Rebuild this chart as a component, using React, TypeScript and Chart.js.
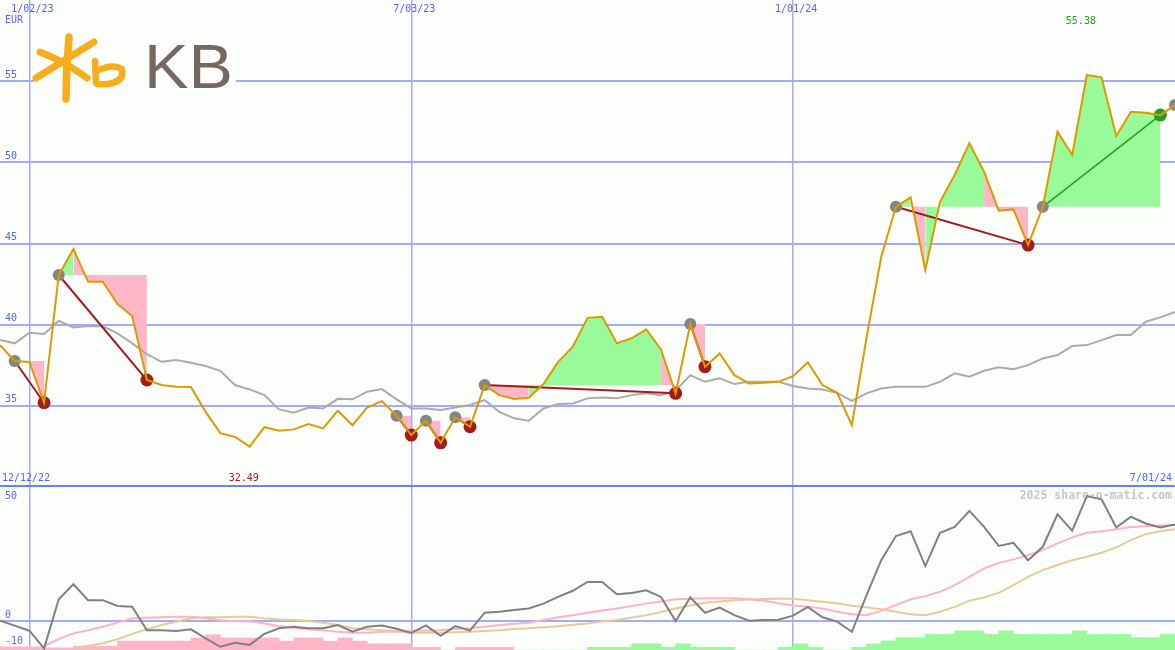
import React, { useEffect, useRef } from 'react';
import { Chart, registerables } from 'chart.js';

Chart.register(...registerables);

// ---------- data ----------
const currency = 'EUR';
const rangeStartLabel = '12/12/22';
const rangeEndLabel = '7/01/24';
const dateTickIdx = [2, 28, 54];
const dateTickLabels = ['1/02/23', '7/03/23', '1/01/24'];
const priceTicks = [35, 40, 45, 50, 55];
const oscTicks = [50, 0, -10];
const oscGridTicks = [0];

// weekly closing prices (index 0 = week of 12/19/22)
const price = [
  38.74, 37.76, 37.70, 35.19, 43.06, 44.66, 42.64, 42.64, 41.27, 40.53,
  36.59, 36.28, 36.17, 36.16, 34.63, 33.32, 33.09, 32.49, 33.69, 33.46,
  33.55, 33.88, 33.61, 34.70, 33.81, 34.90, 35.29, 34.39, 33.20, 34.08,
  32.72, 34.29, 33.71, 36.28, 35.66, 35.42, 35.50, 36.34, 37.71, 38.64,
  40.42, 40.49, 38.85, 39.16, 39.71, 38.48, 35.77, 40.04, 37.41, 38.23,
  36.89, 36.38, 36.42, 36.48, 36.83, 37.68, 36.28, 35.80, 33.81, 39.20,
  44.18, 47.26, 47.84, 43.36, 47.57, 49.22, 51.17, 49.42, 47.02, 47.10,
  44.90, 47.26, 51.89, 50.45, 55.38, 55.24, 51.62, 53.12, 53.06, 52.91,
  53.53,
];

// moving average of price
const priceMA = [
  39.05, 38.85, 39.50, 39.42, 40.24, 39.83, 39.91, 39.91, 39.46, 38.85,
  38.19, 37.71, 37.82, 37.65, 37.45, 37.16, 36.28, 36.01, 35.66, 34.78,
  34.57, 34.90, 34.84, 35.43, 35.40, 35.87, 36.03, 35.40, 34.84, 34.84,
  34.74, 34.90, 35.05, 35.35, 34.63, 34.23, 34.08, 34.84, 35.11, 35.15,
  35.46, 35.52, 35.46, 35.66, 35.77, 35.66, 35.93, 36.89, 36.48, 36.69,
  36.34, 36.48, 36.48, 36.48, 36.22, 36.07, 36.01, 35.80, 35.31, 35.77,
  36.07, 36.17, 36.17, 36.17, 36.48, 37.00, 36.79, 37.16, 37.37, 37.25,
  37.51, 37.92, 38.13, 38.68, 38.74, 39.05, 39.36, 39.36, 40.18, 40.45,
  40.79,
];

// trade signals: start week index and end week index (null = open)
const signalStart = [1, 4, 27, 29, 31, 33, 47, 61, 71, 80];
const signalEnd: (number | null)[] = [3, 10, 28, 30, 32, 46, 48, 70, 79, null];

// lower panel oscillator
const osc = [
  0.1, -1.7, -3.6, -10.2, 8.1, 13.7, 7.8, 7.8, 5.6, 5.3,
  -3.4, -3.4, -3.7, -3.1, -6.5, -9.6, -8.1, -8.9, -4.8, -2.7,
  -2.1, -2.7, -2.7, -1.5, -4.0, -2.1, -1.7, -2.9, -4.4, -1.6,
  -5.5, -1.9, -3.6, 3.1, 3.5, 4.1, 4.7, 6.5, 9.0, 11.3,
  14.6, 14.6, 10.0, 10.5, 11.5, 9.0, 0.0, 8.8, 3.1, 5.0,
  2.2, 0.1, 0.4, 0.5, 2.0, 5.3, 1.4, -0.2, -4.0, 9.7,
  22.7, 31.7, 33.5, 20.5, 32.9, 35.1, 41.1, 35.1, 28.0, 29.2,
  22.7, 27.7, 39.8, 33.7, 46.6, 45.4, 34.9, 38.9, 36.4, 34.9,
  36.0,
];

const oscAvgFast: (number | null)[] = [
  null, null, null, -9.3, -6.7, -4.6, -3.4, -2.1, -0.6, 1.0,
  1.2, 1.4, 1.6, 1.6, 1.0, 0.3, -0.1, -0.1, -0.9, -1.9,
  -2.5, -3.1, -3.4, -4.0, -4.4, -4.4, -4.0, -4.0, -3.6, -3.5,
  -3.4, -3.0, -2.7, -2.1, -1.5, -1.0, -0.6, 0.4, 1.4, 2.2,
  3.1, 3.9, 4.7, 5.6, 6.5, 7.3, 8.1, 8.3, 8.5, 8.5,
  8.5, 8.1, 7.6, 6.6, 5.8, 5.3, 4.7, 3.5, 2.5, 2.2,
  3.8, 6.0, 8.1, 9.3, 10.9, 13.4, 16.5, 19.6, 21.7, 23.0,
  24.6, 26.5, 29.0, 31.2, 32.9, 33.5, 34.2, 35.1, 35.4, 35.6,
  35.8,
];

const oscAvgSlow: (number | null)[] = [
  null, null, null, null, null, -10.0, -9.3, -8.3, -6.8, -4.8,
  -3.1, -1.5, -0.3, 1.0, 1.4, 1.4, 1.6, 1.6, 1.0, 0.6,
  0.4, 0.0, -0.6, -1.5, -2.7, -3.1, -3.4, -3.7, -4.4, -4.4,
  -4.4, -4.2, -4.0, -3.7, -3.4, -3.0, -2.7, -2.3, -1.9, -1.4,
  -0.9, -0.2, 0.4, 1.3, 2.2, 3.4, 4.7, 5.8, 6.8, 7.3,
  7.8, 8.0, 8.2, 8.4, 8.3, 7.8, 7.2, 6.6, 5.7, 5.1,
  4.4, 3.5, 2.5, 2.2, 3.5, 5.3, 7.6, 8.8, 10.5, 13.4,
  16.5, 19.0, 20.9, 22.7, 24.0, 25.5, 27.5, 30.2, 32.4, 33.5,
  34.2,
];

// histogram (one bar per week, drawn up from the panel floor; sign = colour)
const hist = [
  -1.2, -1.2, -1.2, -0.8, -0.8, -1.4, -1.4, -1.4, -3.3, -3.3,
  -3.3, -3.3, -3.3, -4.5, -5.7, -4.5, -4.5, -4.5, -4.5, -3.3,
  -4.5, -4.5, -3.3, -4.5, -3.3, -2.3, -2.3, -2.3, -1.0, -1.0,
  0, -1.0, -1.0, -1.0, -1.0, 0, 0, 0, 0, 0,
  1.0, 1.0, 1.0, 2.3, 2.3, 1.0, 2.3, 1.0, 1.0, 1.0,
  0, 0, 0, 1.0, 2.3, 1.0, 0, 0, 1.0, 2.3,
  3.4, 4.6, 4.6, 5.8, 5.8, 7.1, 7.1, 5.8, 7.1, 5.8,
  5.8, 5.8, 5.8, 7.1, 5.8, 5.8, 5.8, 4.6, 4.6, 5.8,
];

const watermark = '2025 share-o-matic.com';

// ---------- styles ----------
const W = 1175;
const TOP_H = 487;
const BOT_H = 163;
const BG = '#fcfefc';
const GRID = '#a4acf4';
const SEP = '#6f7ff0';
const TEXT_BLUE = '#5566ee';
const MONO = "'DejaVu Sans Mono', monospace";
const ORANGE = '#dc9a00';
const MA_GRAY = '#ababab';
const DOT_GRAY = '#858585';
const RED = '#a31c1c';
const GREEN = '#22a022';
const FILL_GREEN = '#98fa98';
const FILL_PINK = '#ffb6c6';
const PRICE_MIN = 30;
const PRICE_MAX = 60;
const OSC_MIN = -10.8;
const OSC_MAX = 50;
const LAST = price.length - 1;

const pts = (arr: (number | null)[]) => arr.map((v, i) => ({ x: i, y: v }));

function xScale(withTicks: number[]) {
  return {
    type: 'linear' as const,
    min: 0,
    max: LAST,
    offset: false,
    ticks: { display: false },
    border: { display: false },
    grid: { color: GRID, lineWidth: 1.5, drawTicks: false, offset: false },
    afterBuildTicks: (axis: any) => {
      axis.ticks = withTicks.map((v) => ({ value: v }));
    },
  };
}

const topTextPlugin = {
  id: 'topText',
  beforeDatasetsDraw(chart: any) {
    const { ctx, scales } = chart;
    const x = scales.x;
    const y = scales.y;
    ctx.save();
    ctx.font = `10px ${MONO}`;
    ctx.fillStyle = TEXT_BLUE;
    ctx.textBaseline = 'middle';
    ctx.textAlign = 'left';
    priceTicks.forEach((v) => ctx.fillText(String(v), 5, y.getPixelForValue(v) - 6));
    ctx.fillText(currency, 5, 20);
    ctx.fillText(rangeStartLabel, 2, chart.height - 9);
    ctx.textAlign = 'right';
    ctx.fillText(rangeEndLabel, chart.width - 3, chart.height - 9);
    ctx.textAlign = 'center';
    dateTickIdx.forEach((d, k) => ctx.fillText(dateTickLabels[k], x.getPixelForValue(d) + 3, 9));
    const minV = Math.min(...price);
    const maxV = Math.max(...price);
    ctx.fillStyle = RED;
    ctx.fillText(minV.toFixed(2), x.getPixelForValue(price.indexOf(minV)) - 6, chart.height - 9);
    ctx.fillStyle = GREEN;
    ctx.fillText(maxV.toFixed(2), x.getPixelForValue(price.indexOf(maxV)) - 6, 21);
    ctx.restore();
  },
  afterDraw(chart: any) {
    const { ctx } = chart;
    ctx.save();
    ctx.fillStyle = SEP;
    ctx.fillRect(0, chart.height - 2, chart.width, 2);
    ctx.restore();
  },
};

const botTextPlugin = {
  id: 'botText',
  beforeDatasetsDraw(chart: any) {
    const { ctx, scales } = chart;
    const y = scales.y;
    ctx.save();
    ctx.textBaseline = 'middle';
    ctx.font = `bold 11.5px ${MONO}`;
    ctx.fillStyle = '#c6c6c6';
    ctx.textAlign = 'right';
    ctx.fillText(watermark, chart.width - 3, 9);
    ctx.font = `10px ${MONO}`;
    ctx.fillStyle = TEXT_BLUE;
    ctx.textAlign = 'left';
    oscTicks.forEach((v) => ctx.fillText(String(v), 5, Math.max(y.getPixelForValue(v) - 6, 9)));
    ctx.restore();
  },
};

const baseOptions = {
  animation: false,
  responsive: false,
  maintainAspectRatio: false,
  devicePixelRatio: 1,
  events: [],
  layout: { padding: 0, autoPadding: false },
  elements: { line: { tension: 0 } },
  plugins: { legend: { display: false }, tooltip: { enabled: false } },
};

function buildTopConfig(): any {
  const datasets: any[] = [];
  // price line on top
  datasets.push({
    data: pts(price),
    borderColor: ORANGE,
    borderWidth: 2,
    pointRadius: 0,
    fill: false,
    order: 0,
  });
  // signal start dots
  datasets.push({
    data: signalStart.map((i) => ({ x: i, y: price[i] })),
    showLine: false,
    pointRadius: 6,
    pointBackgroundColor: DOT_GRAY,
    pointBorderWidth: 0,
    pointBorderColor: 'rgba(0,0,0,0)',
    order: 2,
  });
  const ends: { x: number; y: number; c: string }[] = [];
  signalStart.forEach((s, k) => {
    const e = signalEnd[k];
    if (e == null) return;
    const win = price[e] >= price[s];
    ends.push({ x: e, y: price[e], c: win ? GREEN : RED });
    datasets.push({
      data: [{ x: s, y: price[s] }, { x: e, y: price[e] }],
      borderColor: win ? GREEN : RED,
      borderWidth: win ? 1.5 : 2,
      pointRadius: 0,
      fill: false,
      order: 4,
    });
    // fill between price and the entry level, coloured by each segment's end
    const base = price[s];
    let i = s;
    while (i < e) {
      const up = price[i + 1] >= base;
      let j = i + 1;
      while (j < e && (price[j + 1] >= base) === up) j++;
      const run = [];
      for (let t = i; t <= j; t++) run.push({ x: t, y: price[t] });
      datasets.push({
        data: run,
        borderColor: 'rgba(0,0,0,0)',
        borderWidth: 0,
        backgroundColor: up ? FILL_GREEN : FILL_PINK,
        fill: { value: base },
        pointRadius: 0,
        order: 10,
      });
      i = j;
    }
  });
  datasets.push({
    data: ends.map((p) => ({ x: p.x, y: p.y })),
    showLine: false,
    pointRadius: 6.5,
    pointBackgroundColor: ends.map((p) => p.c),
    pointBorderWidth: 0,
    pointBorderColor: 'rgba(0,0,0,0)',
    order: 1,
  });
  // moving average
  datasets.push({
    data: pts(priceMA),
    borderColor: MA_GRAY,
    borderWidth: 2,
    pointRadius: 0,
    fill: false,
    order: 6,
  });

  return {
    type: 'line',
    data: { datasets },
    options: {
      ...baseOptions,
      scales: {
        x: xScale(dateTickIdx),
        y: {
          type: 'linear',
          min: PRICE_MIN,
          max: PRICE_MAX,
          ticks: { display: false },
          border: { display: false },
          grid: { color: GRID, lineWidth: 2, drawTicks: false },
          afterBuildTicks: (axis: any) => {
            axis.ticks = priceTicks.map((v) => ({ value: v }));
          },
        },
      },
    },
    plugins: [topTextPlugin],
  };
}

function buildBottomConfig(): any {
  return {
    type: 'line',
    data: {
      datasets: [
        {
          data: pts(osc),
          borderColor: '#808080',
          borderWidth: 2,
          pointRadius: 0,
          fill: false,
          order: 0,
        },
        {
          data: pts(oscAvgFast),
          borderColor: '#ffb3c8',
          borderWidth: 2,
          pointRadius: 0,
          fill: false,
          order: 1,
        },
        {
          data: pts(oscAvgSlow),
          borderColor: '#e6cb98',
          borderWidth: 2,
          pointRadius: 0,
          fill: false,
          order: 2,
        },
        {
          type: 'bar',
          data: hist.map((h, i) => ({ x: i + 0.5, y: [OSC_MIN, OSC_MIN + Math.abs(h)] })),
          backgroundColor: hist.map((h) => (h < 0 ? FILL_PINK : FILL_GREEN)),
          borderWidth: 0,
          barPercentage: 1,
          categoryPercentage: 1,
          grouped: false,
          order: 5,
        },
      ],
    },
    options: {
      ...baseOptions,
      scales: {
        x: xScale(dateTickIdx),
        y: {
          type: 'linear',
          min: OSC_MIN,
          max: OSC_MAX,
          ticks: { display: false },
          border: { display: false },
          grid: { color: GRID, lineWidth: 2, drawTicks: false, offset: false },
          afterBuildTicks: (axis: any) => {
            axis.ticks = oscGridTicks.map((v) => ({ value: v }));
          },
        },
      },
    },
    plugins: [botTextPlugin],
  };
}

function Logo() {
  const orange = '#f9ad1a';
  return (
    <svg
      width={260}
      height={112}
      style={{ position: 'absolute', left: 0, top: 0, pointerEvents: 'none' }}
    >
      <rect x={34} y={30} width={202} height={74} fill={BG} />
      <g stroke={orange} strokeLinecap="round" strokeLinejoin="round" fill="none">
        <path d="M69 37 Q 66 68 66 99" strokeWidth={7.5} />
        <path d="M36 78 Q 62 62 94 42" strokeWidth={7} />
        <path d="M40 52 Q 66 62 87 78" strokeWidth={7} />
        <path d="M95 61 L 96 82" strokeWidth={6.5} />
        <path d="M97 71 Q 112 63 122 69 Q 124 80 113 83 Q 104 85 97 84" strokeWidth={6.5} />
      </g>
      <text
        x={144}
        y={88}
        fontFamily="'Liberation Sans', Arial, sans-serif"
        fontSize={63}
        textLength={89}
        lengthAdjust="spacingAndGlyphs"
        fill="#75695f"
      >
        KB
      </text>
    </svg>
  );
}

export default function App() {
  const topRef = useRef<HTMLCanvasElement>(null);
  const botRef = useRef<HTMLCanvasElement>(null);

  useEffect(() => {
    const top = new Chart(topRef.current as HTMLCanvasElement, buildTopConfig());
    const bot = new Chart(botRef.current as HTMLCanvasElement, buildBottomConfig());
    return () => {
      top.destroy();
      bot.destroy();
    };
  }, []);

  return (
    <div
      style={{
        position: 'absolute',
        left: 0,
        top: 0,
        width: W,
        height: TOP_H + BOT_H,
        background: BG,
        overflow: 'hidden',
      }}
    >
      <canvas
        ref={topRef}
        width={W}
        height={TOP_H}
        style={{ position: 'absolute', left: 0, top: 0, width: W, height: TOP_H }}
      />
      <canvas
        ref={botRef}
        width={W}
        height={BOT_H}
        style={{ position: 'absolute', left: 0, top: TOP_H, width: W, height: BOT_H }}
      />
      <Logo />
    </div>
  );
}
